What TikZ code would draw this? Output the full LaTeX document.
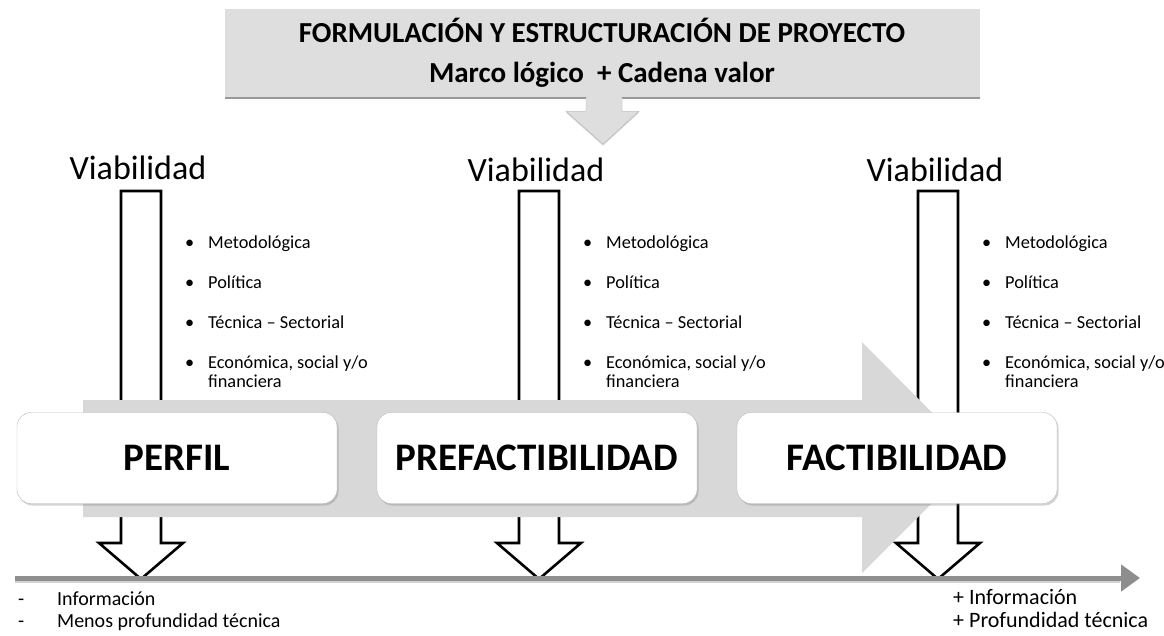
\documentclass[tikz,border=0pt]{standalone}
\usepackage{fontspec}
\setmainfont{Carlito}
\usetikzlibrary{shadows,arrows.meta}
\definecolor{bandgray}{HTML}{D8D8D8}
\definecolor{topgray}{HTML}{DEDEDE}
\definecolor{axisgray}{HTML}{8E8E8E}

\begin{document}
\begin{tikzpicture}[x=1pt,y=-1pt,
   stage/.style={draw=gray!55,fill=white,rounded corners=14pt,
      minimum width=320pt,minimum height=91pt,
      font=\fontsize{39}{42}\selectfont\bfseries,
      drop shadow={shadow xshift=1.5pt,shadow yshift=-2pt,opacity=.35}},
   topbox/.style={fill=topgray,minimum width=755pt,minimum height=88pt,align=center,
      font=\fontsize{29}{40}\selectfont\bfseries,
      drop shadow={shadow xshift=0pt,shadow yshift=-2pt,fill=gray,opacity=.8}},
   viab/.style={font=\fontsize{34}{38}\selectfont,anchor=base},
   items/.style={font=\fontsize{18.3}{19}\selectfont,anchor=base west,inner sep=0pt},
   note/.style={font=\fontsize{20}{22}\selectfont,anchor=base west,inner sep=0pt},
   blockarrow/.style={draw=black,line width=2.6pt,fill=white}]
\useasboundingbox (0,0) rectangle (1164,635);

% formulacion del proyecto
\node[topbox] (proyecto) at (602,53) {FORMULACIÓN Y ESTRUCTURACIÓN DE PROYECTO\\Marco lógico \ + Cadena valor};
\begin{scope}[shift={(proyecto.south)}]
\draw[fill=topgray,draw=gray!60,drop shadow={shadow xshift=0pt,shadow yshift=-1.5pt,opacity=.3}]
   (-16,-1) -- (-16,14) -- (-36,14) -- (1,47) -- (37,14) -- (20,14) -- (20,-1);
\end{scope}

% viabilidad
\foreach \c/\t/\n in {141/179/a,539/181/b,938/181/c}{
  \node[viab] (viab\n) at (\c-3,\t) {Viabilidad};
  \draw[blockarrow] (\c-20,191) -- (\c-20,543) -- (\c-42,543) -- (\c,579)
     -- (\c+42,543) -- (\c+20,543) -- (\c+20,191) -- cycle;
  \node[items] (lista\n) at (\c+44,248) {\begin{tabular}[t]{@{}p{23pt}@{}l@{}}
     \textbullet & Metodológica\\[21pt]
     \textbullet & Política\\[21pt]
     \textbullet & Técnica -- Sectorial\\[21pt]
     \textbullet & Económica, social y/o\\
                 & financiera
     \end{tabular}};
}

% flecha de etapas
\fill[bandgray] (83,400) -- (862,400) -- (862,342) -- (977,458) -- (862,573)
   -- (862,517) -- (83,517) -- cycle;

\node[stage] (perfil) at (177,458) {PERFIL};
\node[stage] (prefact) at (537,458) {PREFACTIBILIDAD};
\node[stage] (fact) at (897,458) {FACTIBILIDAD};

% eje de informacion
\coordinate (ini) at (15,578);
\coordinate (fin) at (1140,578);
\draw[gray!35,line width=3pt] ([yshift=-3pt]ini) -- ([xshift=-20pt,yshift=-3pt]fin);
\draw[axisgray,line width=5pt,-{Triangle[length=19pt,width=26pt]}] (ini) -- (fin);

\node[note] (menos) at (18,605) {\begin{tabular}[t]{@{}p{39pt}@{}l@{}}
   - & Información\\ - & Menos profundidad técnica\end{tabular}};
\node[note,font=\fontsize{22}{23}\selectfont] (mas) at (953,604) {\begin{tabular}[t]{@{}l@{}}
   + Información\\ + Profundidad técnica\end{tabular}};
\end{tikzpicture}
\end{document}
